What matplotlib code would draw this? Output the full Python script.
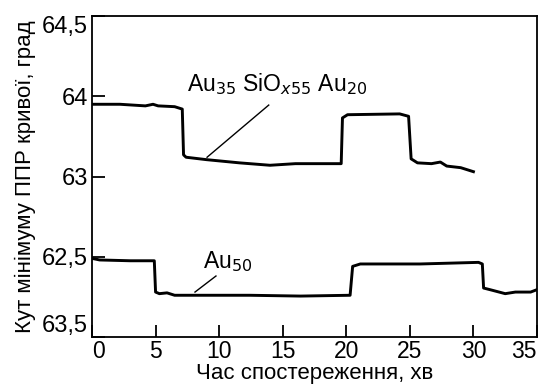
import numpy as np
import matplotlib.pyplot as plt

plt.rcParams['font.family'] = ['Liberation Sans', 'DejaVu Sans']

# upper curve: Au35 SiOx55 Au20
t_top = [0, 2.2, 4.2, 4.8, 5.2, 6.5, 7.1, 7.2, 7.4, 9.0, 11.6, 14.0, 16.0, 19.6,
         19.7, 20.1, 24.2, 24.9, 25.1, 25.6, 26.7, 27.4, 27.9, 29.0, 30.0]
v_top = [2.90, 2.90, 2.88, 2.90, 2.88, 2.87, 2.84, 2.27, 2.24, 2.21, 2.17, 2.14, 2.16, 2.16,
         2.73, 2.77, 2.78, 2.75, 2.22, 2.17, 2.16, 2.18, 2.13, 2.11, 2.06]

# lower curve: Au50
t_bot = [0, 0.6, 3.0, 4.9, 5.0, 5.3, 5.9, 6.5, 7.3, 12.4, 16.4, 20.3, 20.5, 21.1,
         25.8, 30.4, 30.7, 30.8, 31.3, 32.5, 33.3, 34.5, 35.0]
v_bot = [0.98, 0.96, 0.95, 0.95, 0.56, 0.54, 0.55, 0.52, 0.52, 0.52, 0.51, 0.52, 0.88, 0.91,
         0.91, 0.93, 0.91, 0.61, 0.59, 0.54, 0.56, 0.56, 0.59]

xticks = [0, 5, 10, 15, 20, 25, 30, 35]
ypos = [0, 1, 2, 3, 4]
ylabels = ['63,5', '62,5', '63', '64', '64,5']

fig = plt.figure(figsize=(5.41, 3.90), dpi=100)
ax = fig.add_axes([92/541, 1 - 337/390, 445/541, 321/390])

ax.plot(t_top, v_top, color='black', lw=2.1)
ax.plot(t_bot, v_bot, color='black', lw=2.1)

ax.set_xlim(0, 35)
ax.set_ylim(0, 4)
ax.set_xticks(xticks)
ax.set_yticks(ypos)
ax.set_yticklabels(ylabels)
ax.tick_params(direction='in', length=9, width=1.3, labelsize=17, pad=3)
ax.tick_params(axis='x', labelsize=16.5, pad=2)
for s in ax.spines.values():
    s.set_linewidth(1.3)

xl = ax.get_xticklabels()
xl[0].set_ha('left')
xl[-1].set_ha('right')
yl = ax.get_yticklabels()
yl[0].set_va('bottom')
yl[-1].set_va('top')

ax.plot([13.9, 9.05], [2.89, 2.24], color='black', lw=1.0)
ax.text(7.45, 3.06, r'Au$_{35}$ SiO$_{x55}$ Au$_{20}$', fontsize=16.5, va='baseline')
ax.plot([9.75, 8.1], [0.76, 0.56], color='black', lw=1.0)
ax.text(8.7, 0.86, r'Au$_{50}$', fontsize=16.5, va='baseline')

ax.set_xlabel('Час спостереження, хв', fontsize=16, labelpad=0)
ax.set_ylabel('Кут мінімуму ППР кривої, град', fontsize=16, labelpad=4)

plt.savefig('out.png', dpi=100)
